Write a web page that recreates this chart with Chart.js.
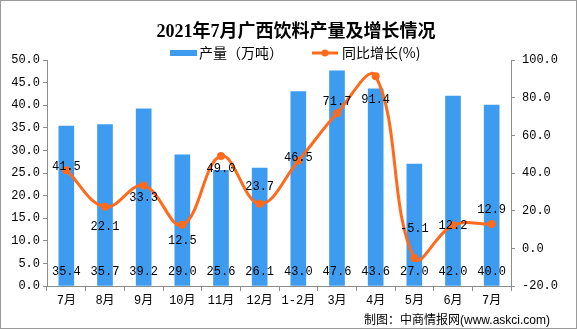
<!DOCTYPE html>
<html>
<head>
<meta charset="utf-8">
<script src="https://cdn.jsdelivr.net/npm/chart.js@4/dist/chart.umd.min.js"></script>
<style>
  html, body { margin: 0; padding: 0; background: #fff; }
  #wrap { width: 577px; height: 329px; position: relative; }
</style>
</head>
<body>
<div id="wrap"><canvas id="chart"></canvas></div>
<script>
// data
const months = ['7月', '8月', '9月', '10月', '11月', '12月', '1-2月', '3月', '4月', '5月', '6月', '7月'];
const output = [35.4, 35.7, 39.2, 29.0, 25.6, 26.1, 43.0, 47.6, 43.6, 27.0, 42.0, 40.0];
const growth = [41.5, 22.1, 33.3, 12.5, 49.0, 23.7, 46.5, 71.7, 91.4, -5.1, 12.2, 12.9];
const leftTicks = [0, 50, 5];
const rightTicks = [-20, 100, 20];

// vertical shift of each growth label from its point (px)
const growthLabelShift = [-3, 20, 12, 16, 13, -17, -3, -11, 24, -29, 0, -14];

const BLUE = '#3D9CF0';
const ORANGE = '#FF6A1C';
const AXIS = '#8c8c8c';
const TICK_FONT = "'Liberation Mono', 'Noto Sans CJK SC', monospace";

const decorPlugin = {
  id: 'decor',
  afterDatasetsDraw(chart) {
    const ctx = chart.ctx;
    ctx.save();
    ctx.fillStyle = '#000';
    ctx.textAlign = 'center';
    ctx.textBaseline = 'middle';
    ctx.font = '12px ' + TICK_FONT;

    // bar values near the bottom of each bar
    const barMeta = chart.getDatasetMeta(0);
    const y0 = chart.scales.y.getPixelForValue(0);
    barMeta.data.forEach((bar, i) => {
      ctx.fillText(output[i].toFixed(1), bar.x, y0 - 14);
    });

    // growth labels
    const lineMeta = chart.getDatasetMeta(1);
    lineMeta.data.forEach((pt, i) => {
      ctx.fillText(growth[i].toFixed(1), pt.x, pt.y + growthLabelShift[i]);
    });
    ctx.restore();
  },
  afterDraw(chart) {
    const ctx = chart.ctx;
    ctx.save();
    // title
    ctx.fillStyle = '#000';
    ctx.textAlign = 'center';
    ctx.textBaseline = 'middle';
    ctx.font = "bold 18px 'Liberation Serif', 'Noto Sans CJK SC', serif";
    ctx.fillText('2021年7月广西饮料产量及增长情况', 296, 32);

    // legend
    ctx.fillStyle = BLUE;
    ctx.fillRect(170, 50, 27, 6);
    ctx.fillStyle = '#000';
    ctx.textAlign = 'left';
    ctx.font = "14px 'Noto Sans CJK SC', sans-serif";
    ctx.fillText('产量（万吨）', 199, 53);
    ctx.strokeStyle = ORANGE;
    ctx.lineWidth = 3;
    ctx.beginPath();
    ctx.moveTo(312, 53);
    ctx.lineTo(338, 53);
    ctx.stroke();
    ctx.fillStyle = ORANGE;
    ctx.beginPath();
    ctx.arc(325, 53, 3.5, 0, Math.PI * 2);
    ctx.fill();
    ctx.fillStyle = '#000';
    ctx.fillText('同比增长(%)', 342, 53);

    // source note
    ctx.textAlign = 'right';
    ctx.font = "12px 'Liberation Sans', 'Noto Sans CJK SC', sans-serif";
    ctx.fillText('制图：中商情报网(www.askci.com)', 550, 321);

    // frame
    ctx.strokeStyle = '#9a9a9a';
    ctx.lineWidth = 1;
    ctx.strokeRect(0.5, 0.5, 576, 328);
    ctx.restore();
  }
};

const ctx = document.getElementById('chart').getContext('2d');
new Chart(ctx, {
  data: {
    labels: months,
    datasets: [
      {
        type: 'bar',
        label: '产量（万吨）',
        data: output,
        backgroundColor: BLUE,
        barThickness: 15,
        yAxisID: 'y',
        order: 2
      },
      {
        type: 'line',
        label: '同比增长(%)',
        data: growth,
        borderColor: ORANGE,
        backgroundColor: ORANGE,
        borderWidth: 3,
        pointRadius: 4,
        pointBackgroundColor: ORANGE,
        pointBorderWidth: 0,
        tension: 0.4,
        yAxisID: 'y1',
        order: 1
      }
    ]
  },
  options: {
    responsive: true,
    maintainAspectRatio: false,
    animation: false,
    layout: { padding: { top: 60, bottom: 18, left: 0, right: 0 } },
    plugins: {
      legend: { display: false },
      title: { display: false },
      tooltip: { enabled: false }
    },
    scales: {
      x: {
        offset: true,
        grid: { display: true, drawOnChartArea: false, drawTicks: true, tickLength: 5, offset: true, color: AXIS },
        border: { color: AXIS },
        ticks: { color: '#000', font: { size: 12, family: TICK_FONT }, padding: 3, maxRotation: 0, autoSkip: false },
        afterFit(s) { s.height = 25; }
      },
      y: {
        position: 'left',
        min: leftTicks[0],
        max: leftTicks[1],
        ticks: {
          stepSize: leftTicks[2],
          color: '#000',
          font: { size: 12, family: TICK_FONT },
          padding: 3,
          callback: v => v.toFixed(1)
        },
        grid: { display: true, drawOnChartArea: false, drawTicks: true, tickLength: 4, color: AXIS },
        border: { color: AXIS },
        afterFit(s) { s.width = 47; }
      },
      y1: {
        position: 'right',
        min: rightTicks[0],
        max: rightTicks[1],
        ticks: {
          stepSize: rightTicks[2],
          color: '#000',
          font: { size: 12, family: TICK_FONT },
          padding: 7,
          callback: v => v.toFixed(1)
        },
        grid: { display: true, drawOnChartArea: false, drawTicks: true, tickLength: 4, color: AXIS },
        border: { color: AXIS },
        afterFit(s) { s.width = 66; }
      }
    }
  },
  plugins: [decorPlugin]
});
</script>
</body>
</html>
